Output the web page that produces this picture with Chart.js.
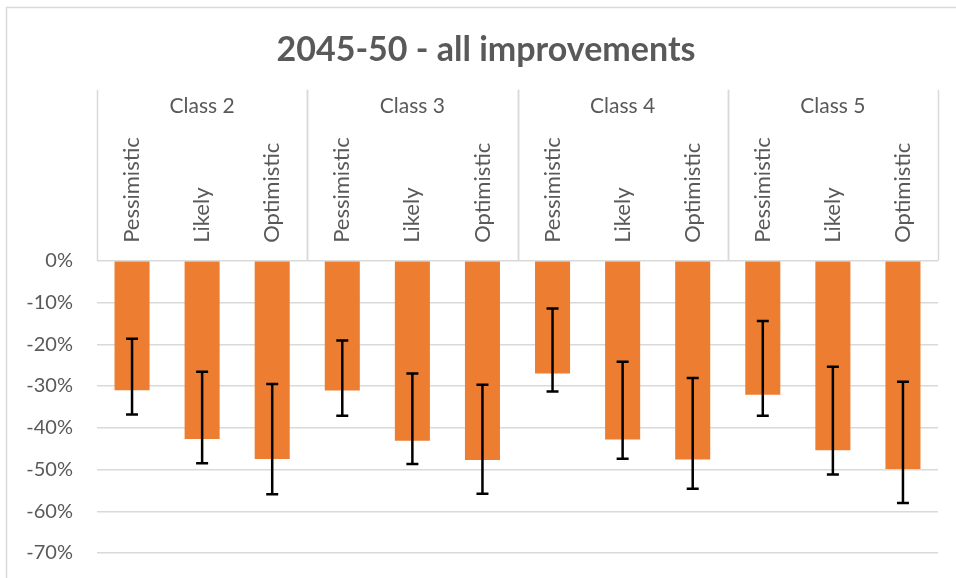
<!DOCTYPE html>
<html>
<head>
<meta charset="utf-8">
<script src="https://cdn.jsdelivr.net/npm/chart.js@4"></script>
<style>
  html,body{margin:0;padding:0;background:#fff}
  #wrap{width:956px;height:578px;position:relative}
</style>
</head>
<body>
<div id="wrap"><canvas id="grafico"></canvas></div>
<script>
const classes = ['Class 2','Class 3','Class 4','Class 5'];
const scenarios = ['Pessimistic','Likely','Optimistic'];
// bar values, grouped by class (Pessimistic, Likely, Optimistic)
const values  = [-0.310,-0.427,-0.475, -0.311,-0.431,-0.477, -0.270,-0.428,-0.476, -0.321,-0.454,-0.499];
// error bar ends
const errTop  = [-0.187,-0.266,-0.295, -0.191,-0.270,-0.297, -0.114,-0.242,-0.281, -0.144,-0.254,-0.290];
const errBot  = [-0.368,-0.485,-0.559, -0.371,-0.487,-0.558, -0.313,-0.474,-0.546, -0.371,-0.512,-0.580];
const yTicks  = [0,-0.1,-0.2,-0.3,-0.4,-0.5,-0.6,-0.7];

const labels = [];
classes.forEach(()=>scenarios.forEach(s=>labels.push(s)));

const FONT = 'Lato, "Open Sans", sans-serif';
const GREY = '#595959';
const LINE = '#d9d9d9';

// outer frame + two-level category header
const frame = {
  id:'frame',
  beforeDraw(c){
    const g=c.ctx;
    g.save();
    g.strokeStyle=LINE; g.lineWidth=1.5;
    g.strokeRect(6.5,7.5,980,620);
    g.restore();
  },
  afterDraw(c){
    const g=c.ctx, x=c.scales.x;
    const slot = x.getPixelForValue(1)-x.getPixelForValue(0);
    g.save();
    g.strokeStyle=LINE; g.lineWidth=1.5;
    g.fillStyle=GREY;
    // scenario labels, rotated, bottom-aligned
    g.font='22px '+FONT;
    g.textAlign='left'; g.textBaseline='middle';
    labels.forEach((lb,i)=>{
      g.save();
      g.translate(x.getPixelForValue(i), x.bottom-18);
      g.rotate(-Math.PI/2);
      g.fillText(lb,0,0);
      g.restore();
    });
    // class boxes
    g.font='21px '+FONT;
    g.textAlign='center';
    classes.forEach((cl,k)=>{
      const l = x.getPixelForValue(k*scenarios.length)-slot/2;
      const r = x.getPixelForValue((k+1)*scenarios.length-1)+slot/2;
      g.beginPath();
      g.moveTo(Math.round(l)+0.5,x.top); g.lineTo(Math.round(l)+0.5,x.bottom);
      g.moveTo(Math.round(r)+0.5,x.top); g.lineTo(Math.round(r)+0.5,x.bottom);
      g.stroke();
      g.fillText(cl,(l+r)/2,x.top+16);
    });
    g.restore();
  }
};

const errorBars = {
  id:'errorBars',
  afterDatasetsDraw(c){
    const g=c.ctx, y=c.scales.y, meta=c.getDatasetMeta(0);
    g.save();
    g.strokeStyle='#000'; g.lineWidth=2.5;
    meta.data.forEach((bar,i)=>{
      const x=bar.x, t=y.getPixelForValue(errTop[i]), b=y.getPixelForValue(errBot[i]);
      g.beginPath();
      g.moveTo(x,t); g.lineTo(x,b);
      g.moveTo(x-6,t); g.lineTo(x+6,t);
      g.moveTo(x-6,b); g.lineTo(x+6,b);
      g.stroke();
    });
    g.restore();
  }
};

new Chart(grafico,{
  type:'bar',
  data:{
    labels:labels,
    datasets:[{data:values,backgroundColor:'#ED7D31',borderWidth:0,
      categoryPercentage:1,barPercentage:0.5}]
  },
  plugins:[frame,errorBars],
  options:{
    responsive:true,maintainAspectRatio:false,animation:false,
    layout:{padding:{left:16,right:0,top:0,bottom:25}},
    plugins:{
      legend:{display:false},tooltip:{enabled:false},
      title:{display:true,text:'2045-50 - all improvements',color:GREY,
        font:{family:FONT,size:34,weight:'bold',lineHeight:1.2},
        padding:{top:30,bottom:19}}
    },
    scales:{
      x:{
        position:'top',
        grid:{display:false,drawTicks:false},
        border:{display:false},
        ticks:{display:false},
        afterFit(s){s.height=171;}
      },
      y:{
        min:-0.7,max:0,
        afterBuildTicks(s){s.ticks=yTicks.map(v=>({value:v}));},
        grid:{color:LINE,lineWidth:1.5,drawTicks:true,tickLength:24,tickColor:'rgba(0,0,0,0)'},
        border:{display:false},
        ticks:{color:GREY,font:{family:FONT,size:20},padding:0,
          callback:v=>Math.round(v*100)+'%'},
        afterFit(s){s.width=81;}
      },
      // empty spacer on the right
      y2:{
        position:'right',
        grid:{display:false,drawTicks:false},
        border:{display:false},
        ticks:{display:false},
        afterFit(s){s.width=18;}
      }
    }
  }
});
</script>
</body>
</html>
